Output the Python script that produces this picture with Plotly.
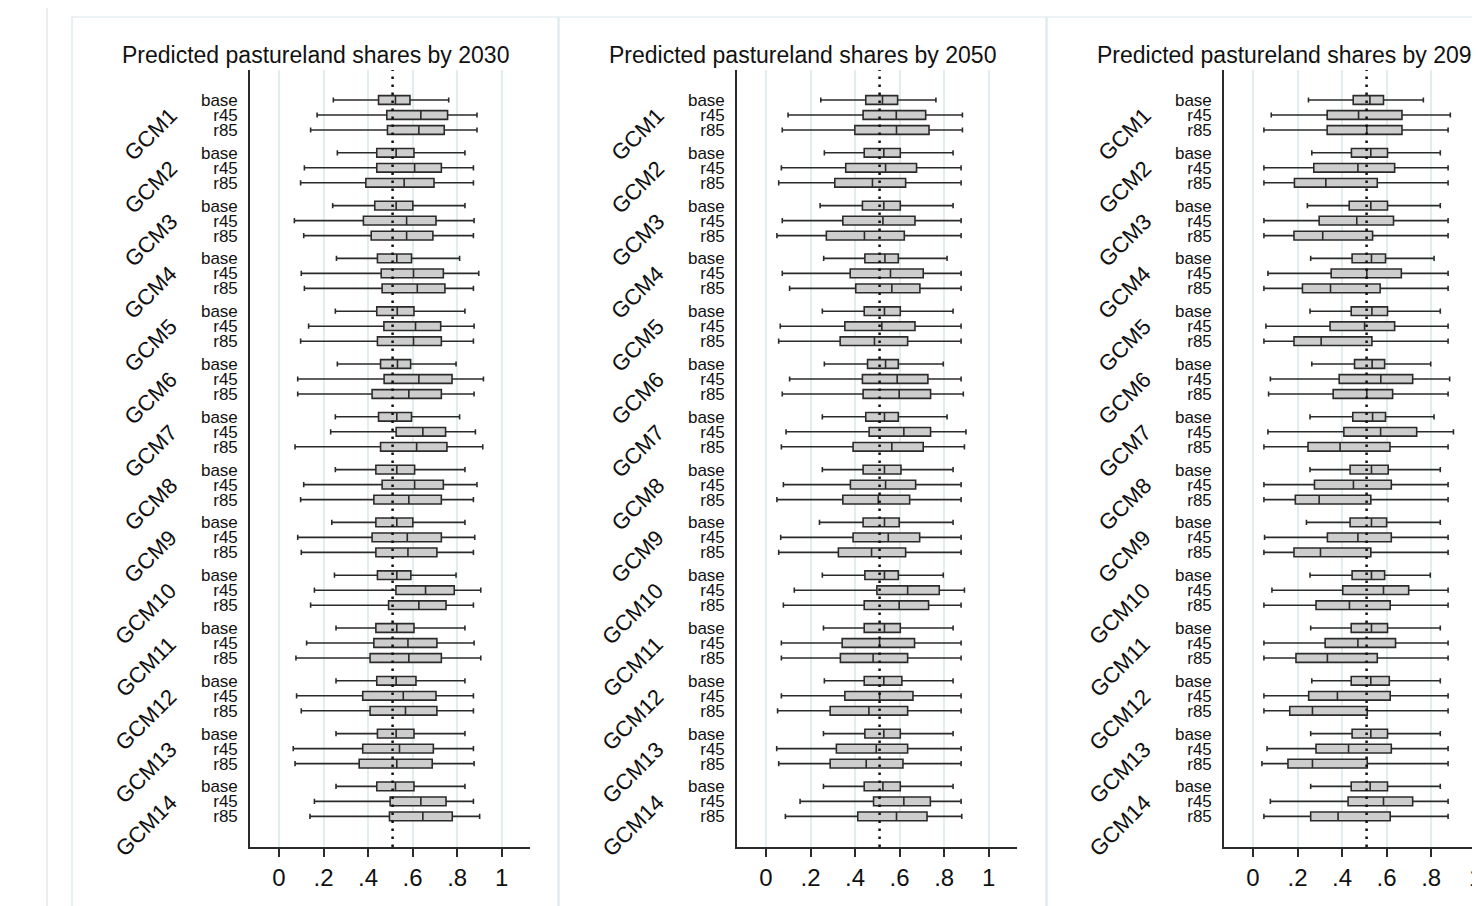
import plotly.graph_objects as go

# ---------------- data ----------------
years = ["2030", "2050", "2090"]
gcms = ["GCM%d" % i for i in range(1, 15)]
scenarios = ["base", "r45", "r85"]
ref_line = 0.51

# order: GCM1 base, r45, r85, GCM2 base, ...
lo_2030 = [0.244, 0.171, 0.142, 0.262, 0.114, 0.097, 0.241, 0.069, 0.111, 0.258, 0.100, 0.114,
           0.253, 0.133, 0.097, 0.262, 0.084, 0.084, 0.253, 0.232, 0.072, 0.253, 0.111, 0.097,
           0.237, 0.084, 0.100, 0.249, 0.159, 0.142, 0.256, 0.124, 0.076, 0.256, 0.079, 0.100,
           0.256, 0.064, 0.072, 0.256, 0.159, 0.139]
q1_2030 = [0.447, 0.484, 0.487, 0.439, 0.439, 0.390, 0.430, 0.379, 0.414, 0.442, 0.459, 0.463,
           0.439, 0.471, 0.442, 0.456, 0.472, 0.418, 0.447, 0.526, 0.456, 0.435, 0.463, 0.426,
           0.435, 0.418, 0.435, 0.442, 0.525, 0.492, 0.435, 0.426, 0.409, 0.439, 0.376, 0.409,
           0.442, 0.376, 0.360, 0.439, 0.499, 0.496]
med_2030 = [0.523, 0.637, 0.628, 0.526, 0.609, 0.562, 0.526, 0.573, 0.573, 0.529, 0.604, 0.621,
            0.531, 0.613, 0.604, 0.532, 0.628, 0.583, 0.529, 0.646, 0.618, 0.529, 0.609, 0.583,
            0.529, 0.576, 0.579, 0.529, 0.658, 0.628, 0.529, 0.579, 0.583, 0.526, 0.558, 0.568,
            0.526, 0.541, 0.529, 0.523, 0.637, 0.646]
q3_2030 = [0.588, 0.757, 0.742, 0.606, 0.729, 0.696, 0.601, 0.705, 0.691, 0.595, 0.738, 0.745,
           0.606, 0.726, 0.729, 0.591, 0.777, 0.729, 0.595, 0.748, 0.754, 0.609, 0.738, 0.729,
           0.601, 0.729, 0.709, 0.592, 0.787, 0.750, 0.606, 0.709, 0.729, 0.615, 0.705, 0.709,
           0.606, 0.693, 0.688, 0.606, 0.750, 0.778]
hi_2030 = [0.762, 0.889, 0.889, 0.835, 0.873, 0.873, 0.835, 0.876, 0.873, 0.811, 0.897, 0.873,
           0.835, 0.876, 0.873, 0.795, 0.918, 0.876, 0.811, 0.882, 0.915, 0.835, 0.889, 0.873,
           0.835, 0.879, 0.873, 0.795, 0.906, 0.873, 0.835, 0.876, 0.906, 0.835, 0.873, 0.873,
           0.835, 0.873, 0.876, 0.835, 0.873, 0.901]

lo_2050 = [0.246, 0.099, 0.073, 0.262, 0.069, 0.057, 0.243, 0.073, 0.049, 0.259, 0.073, 0.106,
           0.253, 0.064, 0.057, 0.262, 0.106, 0.073, 0.253, 0.090, 0.069, 0.253, 0.078, 0.049,
           0.240, 0.066, 0.057, 0.253, 0.127, 0.078, 0.258, 0.069, 0.069, 0.262, 0.069, 0.052,
           0.258, 0.048, 0.057, 0.258, 0.153, 0.087]
q1_2050 = [0.448, 0.436, 0.399, 0.441, 0.358, 0.309, 0.433, 0.345, 0.271, 0.444, 0.378, 0.403,
           0.441, 0.354, 0.333, 0.456, 0.433, 0.436, 0.448, 0.463, 0.391, 0.436, 0.379, 0.345,
           0.436, 0.391, 0.325, 0.444, 0.498, 0.441, 0.441, 0.342, 0.334, 0.441, 0.354, 0.288,
           0.444, 0.316, 0.288, 0.441, 0.483, 0.412]
med_2050 = [0.523, 0.585, 0.586, 0.529, 0.537, 0.478, 0.529, 0.525, 0.442, 0.534, 0.559, 0.565,
            0.532, 0.520, 0.487, 0.537, 0.589, 0.598, 0.532, 0.619, 0.565, 0.532, 0.537, 0.504,
            0.532, 0.549, 0.474, 0.532, 0.636, 0.598, 0.532, 0.510, 0.481, 0.529, 0.510, 0.462,
            0.529, 0.495, 0.450, 0.525, 0.619, 0.586]
q3_2050 = [0.591, 0.717, 0.732, 0.603, 0.676, 0.627, 0.603, 0.669, 0.621, 0.594, 0.706, 0.691,
           0.603, 0.669, 0.636, 0.594, 0.727, 0.739, 0.594, 0.739, 0.706, 0.606, 0.672, 0.645,
           0.598, 0.690, 0.627, 0.594, 0.778, 0.730, 0.603, 0.667, 0.636, 0.610, 0.660, 0.636,
           0.603, 0.636, 0.615, 0.603, 0.738, 0.723]
hi_2050 = [0.763, 0.882, 0.882, 0.840, 0.876, 0.876, 0.840, 0.876, 0.876, 0.813, 0.876, 0.876,
           0.840, 0.876, 0.876, 0.796, 0.876, 0.886, 0.813, 0.898, 0.891, 0.840, 0.876, 0.876,
           0.840, 0.876, 0.876, 0.796, 0.891, 0.876, 0.840, 0.876, 0.876, 0.840, 0.876, 0.876,
           0.840, 0.876, 0.876, 0.840, 0.876, 0.879]

lo_2090 = [0.249, 0.082, 0.049, 0.264, 0.049, 0.049, 0.244, 0.049, 0.049, 0.259, 0.067, 0.049,
           0.256, 0.058, 0.049, 0.264, 0.078, 0.070, 0.256, 0.067, 0.049, 0.256, 0.049, 0.049,
           0.240, 0.052, 0.049, 0.256, 0.085, 0.049, 0.259, 0.049, 0.049, 0.264, 0.049, 0.049,
           0.259, 0.063, 0.040, 0.259, 0.078, 0.049]
q1_2090 = [0.450, 0.333, 0.333, 0.442, 0.273, 0.186, 0.432, 0.297, 0.184, 0.445, 0.351, 0.222,
           0.441, 0.346, 0.184, 0.456, 0.387, 0.360, 0.448, 0.408, 0.247, 0.436, 0.276, 0.190,
           0.436, 0.334, 0.184, 0.445, 0.403, 0.283, 0.441, 0.324, 0.193, 0.441, 0.250, 0.165,
           0.445, 0.283, 0.157, 0.441, 0.427, 0.259]
med_2090 = [0.525, 0.474, 0.511, 0.529, 0.471, 0.327, 0.529, 0.466, 0.313, 0.532, 0.511, 0.348,
            0.534, 0.501, 0.306, 0.535, 0.574, 0.511, 0.537, 0.573, 0.391, 0.532, 0.451, 0.297,
            0.532, 0.471, 0.303, 0.532, 0.586, 0.433, 0.532, 0.471, 0.334, 0.529, 0.379, 0.267,
            0.529, 0.429, 0.267, 0.526, 0.586, 0.382]
q3_2090 = [0.586, 0.669, 0.669, 0.604, 0.636, 0.558, 0.604, 0.631, 0.537, 0.595, 0.666, 0.571,
           0.604, 0.636, 0.534, 0.591, 0.717, 0.627, 0.595, 0.735, 0.615, 0.607, 0.621, 0.529,
           0.600, 0.621, 0.529, 0.591, 0.699, 0.616, 0.604, 0.640, 0.558, 0.612, 0.616, 0.513,
           0.604, 0.621, 0.513, 0.604, 0.717, 0.616]
hi_2090 = [0.765, 0.886, 0.876, 0.841, 0.876, 0.876, 0.841, 0.876, 0.876, 0.813, 0.876, 0.876,
           0.841, 0.876, 0.876, 0.798, 0.883, 0.876, 0.813, 0.900, 0.876, 0.841, 0.876, 0.876,
           0.841, 0.876, 0.876, 0.796, 0.876, 0.876, 0.841, 0.876, 0.876, 0.841, 0.876, 0.876,
           0.841, 0.876, 0.876, 0.841, 0.876, 0.876]

tick_vals = [0, 0.2, 0.4, 0.6, 0.8, 1]
tick_text = ["0", ".2", ".4", ".6", ".8", "1"]

stats = {
    "2030": (lo_2030, q1_2030, med_2030, q3_2030, hi_2030),
    "2050": (lo_2050, q1_2050, med_2050, q3_2050, hi_2050),
    "2090": (lo_2090, q1_2090, med_2090, q3_2090, hi_2090),
}

# ---------------- layout geometry (screen pixels) ----------------
W, H = 1480, 906
OFF = 8               # page body margin shifts the figure by this much
FONT = "Liberation Sans, Arial, Helvetica, sans-serif"
GROUP = 3.52          # spacing between GCM groups (row units)
pos = [g * GROUP + r for g in range(len(gcms)) for r in range(len(scenarios))]
labels = [s for g in gcms for s in scenarios]


def px(x):
    return (x - OFF) / W


def py(y):
    return 1 - (y - OFF) / H


axis_left_px = [250, 737, 1224]
zero_px = [279, 766, 1253]
px_per_unit = 222.7
plot_top_px, plot_bot_px = 70, 847
panel_box_px = [(72, 558), (559, 1046), (1047, 1534)]

fig = go.Figure()
layout = dict(
    width=W, height=H, margin=dict(l=0, r=0, t=0, b=0),
    paper_bgcolor="white", plot_bgcolor="white", showlegend=False,
    font=dict(family=FONT, color="#111"),
)
shapes = []
annotations = []

# outer faint line
shapes.append(dict(type="line", xref="paper", yref="paper", x0=px(47), x1=px(47), y0=-0.1, y1=1.1,
                   line=dict(color="#d8dde0", width=1)))

for i, yr in enumerate(years):
    lo, q1, med, q3, hi = stats[yr]
    xa = "x" if i == 0 else "x%d" % (i + 1)
    ya = "y" if i == 0 else "y%d" % (i + 1)
    fig.add_trace(go.Box(
        orientation="h", y=pos, q1=q1, median=med, q3=q3,
        lowerfence=lo, upperfence=hi, width=0.58, whiskerwidth=0.6,
        fillcolor="#cdcdcd", line=dict(color="#2b2b2b", width=1.6),
        boxpoints=False, xaxis=xa, yaxis=ya, hoverinfo="skip",
    ))
    x0px = axis_left_px[i]
    x1px = min(x0px + 280, W + OFF)
    rmin = (x0px - zero_px[i]) / px_per_unit
    rmax = (x1px - zero_px[i]) / px_per_unit
    dom = [px(x0px), px(x1px)]
    ydom = [py(plot_bot_px), py(plot_top_px)]
    layout["xaxis" if i == 0 else "xaxis%d" % (i + 1)] = dict(
        domain=dom, range=[rmin, rmax], anchor=ya,
        tickvals=tick_vals, ticktext=tick_text, ticks="outside", ticklen=8,
        tickwidth=1.5, tickcolor="#2b2b2b",
        showgrid=True, gridcolor="#e2edf0", gridwidth=1.6,
        showline=True, linecolor="#2b2b2b", linewidth=1.6,
        zeroline=False, tickfont=dict(size=24, family=FONT, color="#111"),
    )
    layout["yaxis" if i == 0 else "yaxis%d" % (i + 1)] = dict(
        domain=ydom, range=[49.8, -2], anchor=xa,
        tickvals=pos, ticktext=labels, ticks="", ticklabelstandoff=7,
        showgrid=False, zeroline=False,
        showline=True, linecolor="#2b2b2b", linewidth=1.6,
        tickfont=dict(size=17, family=FONT, color="#111"),
    )
    # reference dotted line
    shapes.append(dict(type="line", xref=xa, yref=ya + " domain", x0=ref_line, x1=ref_line,
                       y0=0, y1=1, line=dict(color="#111", width=2.5, dash="2.5px,5.5px")))
    # panel frame
    bx0, bx1 = panel_box_px[i]
    shapes.append(dict(type="rect", xref="paper", yref="paper", x0=px(bx0), x1=px(bx1),
                       y0=-0.1, y1=py(17), line=dict(color="#dbe7eb", width=1.2),
                       fillcolor="rgba(0,0,0,0)", layer="below"))
    # title
    annotations.append(dict(text="Predicted pastureland shares by " + yr, xref="paper", yref="paper",
                            x=px((bx0 + bx1) / 2), y=py(55), xanchor="center", yanchor="middle",
                            showarrow=False, font=dict(size=23, family=FONT, color="#111")))
    # rotated GCM labels
    for g, name in enumerate(gcms):
        w = 22 * (0.778 + 0.722 + 0.833 + 0.556 * (len(name) - 3))
        half = w / 2 * 0.7071
        annotations.append(dict(text=name, xref="paper", yref=ya, x=px(x0px - 77), y=g * GROUP,
                                xanchor="center", yanchor="middle", textangle=-45,
                                xshift=-half, yshift=-(12 + half), showarrow=False,
                                font=dict(size=22, family=FONT, color="#111")))

layout["shapes"] = shapes
layout["annotations"] = annotations
fig.update_layout(**layout)
fig.write_html("out.html")
